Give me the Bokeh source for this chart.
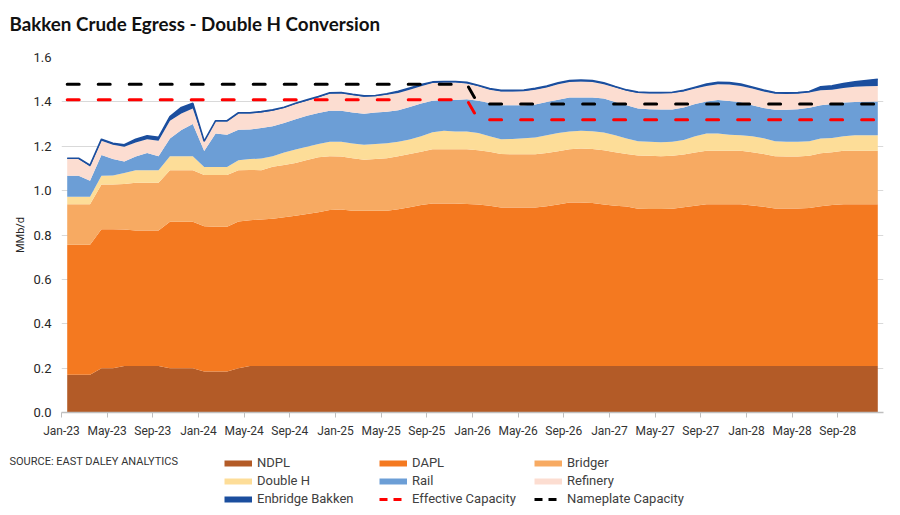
import numpy as np
import pandas as pd
from bokeh.plotting import figure
from bokeh.layouts import column
from bokeh.models import (ColumnDataSource, Range1d, FixedTicker, Legend, LegendItem,
                          Label, NumeralTickFormatter)
from bokeh.transform import stack
from bokeh.embed import file_html
from bokeh.resources import INLINE

# ---------------- data (MMb/d, monthly Jan-23 .. Dec-28) ----------------
months = pd.date_range("2023-01-01", periods=72, freq="MS")

ndpl = [0.17, 0.17, 0.17, 0.20, 0.20, 0.21, 0.21, 0.21, 0.21, 0.20, 0.20, 0.20,
        0.185, 0.185, 0.185, 0.20, 0.21, 0.21, 0.21, 0.21, 0.21, 0.21, 0.21, 0.21,
        0.21, 0.21, 0.21, 0.21, 0.21, 0.21, 0.21, 0.21, 0.21, 0.21, 0.21, 0.21,
        0.21, 0.21, 0.21, 0.21, 0.21, 0.21, 0.21, 0.21, 0.21, 0.21, 0.21, 0.21,
        0.21, 0.21, 0.21, 0.21, 0.21, 0.21, 0.21, 0.21, 0.21, 0.21, 0.21, 0.21,
        0.21, 0.21, 0.21, 0.21, 0.21, 0.21, 0.21, 0.21, 0.21, 0.21, 0.21, 0.21]

dapl = [0.586, 0.586, 0.586, 0.626, 0.626, 0.615, 0.610, 0.610, 0.610, 0.660, 0.660, 0.660,
        0.655, 0.652, 0.652, 0.661, 0.657, 0.660, 0.663, 0.670, 0.677, 0.685, 0.693, 0.703,
        0.705, 0.699, 0.699, 0.699, 0.699, 0.706, 0.715, 0.725, 0.732, 0.732, 0.732, 0.730,
        0.727, 0.722, 0.714, 0.714, 0.714, 0.714, 0.720, 0.728, 0.737, 0.737, 0.734, 0.728,
        0.722, 0.718, 0.708, 0.707, 0.707, 0.708, 0.715, 0.722, 0.729, 0.729, 0.729, 0.729,
        0.723, 0.717, 0.710, 0.710, 0.710, 0.712, 0.720, 0.725, 0.729, 0.729, 0.729, 0.729]

bridger = [0.183, 0.183, 0.183, 0.202, 0.202, 0.205, 0.215, 0.215, 0.215, 0.232, 0.232, 0.232,
           0.230, 0.233, 0.233, 0.231, 0.226, 0.222, 0.235, 0.235, 0.238, 0.243, 0.247, 0.242,
           0.239, 0.237, 0.230, 0.234, 0.237, 0.239, 0.240, 0.240, 0.245, 0.245, 0.245, 0.247,
           0.245, 0.243, 0.241, 0.240, 0.240, 0.240, 0.240, 0.239, 0.239, 0.243, 0.244, 0.244,
           0.241, 0.237, 0.240, 0.240, 0.238, 0.239, 0.238, 0.240, 0.241, 0.241, 0.241, 0.241,
           0.240, 0.238, 0.235, 0.234, 0.234, 0.235, 0.238, 0.238, 0.241, 0.241, 0.241, 0.241]

double_h = [0.033, 0.033, 0.033, 0.039, 0.040, 0.050, 0.057, 0.057, 0.057, 0.063, 0.063, 0.063,
            0.037, 0.037, 0.037, 0.045, 0.049, 0.053, 0.047, 0.057, 0.060, 0.060, 0.060, 0.065,
            0.066, 0.066, 0.068, 0.067, 0.068, 0.065, 0.065, 0.070, 0.076, 0.083, 0.080, 0.079,
            0.078, 0.070, 0.067, 0.069, 0.072, 0.076, 0.080, 0.083, 0.080, 0.080, 0.080, 0.080,
            0.077, 0.070, 0.064, 0.063, 0.063, 0.063, 0.065, 0.073, 0.078, 0.078, 0.072, 0.070,
            0.072, 0.071, 0.067, 0.066, 0.066, 0.065, 0.067, 0.064, 0.065, 0.070, 0.070, 0.070]

rail = [0.095, 0.095, 0.072, 0.094, 0.074, 0.051, 0.062, 0.078, 0.063, 0.080, 0.118, 0.145,
        0.072, 0.151, 0.145, 0.137, 0.134, 0.137, 0.135, 0.133, 0.137, 0.139, 0.140, 0.140,
        0.140, 0.140, 0.140, 0.142, 0.142, 0.142, 0.147, 0.148, 0.142, 0.138, 0.141, 0.146,
        0.145, 0.150, 0.153, 0.152, 0.149, 0.148, 0.150, 0.150, 0.154, 0.150, 0.152, 0.153,
        0.150, 0.150, 0.148, 0.147, 0.148, 0.146, 0.147, 0.145, 0.144, 0.150, 0.152, 0.148,
        0.140, 0.136, 0.142, 0.144, 0.147, 0.151, 0.150, 0.153, 0.152, 0.150, 0.151, 0.152]

refinery = [0.075, 0.075, 0.065, 0.064, 0.065, 0.067, 0.063, 0.062, 0.070, 0.080, 0.075, 0.070,
            0.041, 0.054, 0.060, 0.074, 0.072, 0.070, 0.070, 0.067, 0.068, 0.068, 0.070, 0.077,
            0.078, 0.078, 0.076, 0.073, 0.076, 0.078, 0.078, 0.077, 0.080, 0.079, 0.079, 0.071,
            0.065, 0.060, 0.062, 0.062, 0.063, 0.067, 0.065, 0.070, 0.070, 0.072, 0.070, 0.065,
            0.065, 0.065, 0.070, 0.071, 0.072, 0.074, 0.072, 0.070, 0.070, 0.072, 0.074, 0.074,
            0.075, 0.075, 0.073, 0.072, 0.070, 0.069, 0.067, 0.065, 0.065, 0.068, 0.069, 0.070]

enbridge = [0.004, 0.004, 0.006, 0.007, 0.006, 0.009, 0.015, 0.015, 0.015, 0.018, 0.027, 0.024,
            0.003, 0.003, 0.003, 0.003, 0.003, 0.004, 0.004, 0.004, 0.004, 0.004, 0.004, 0.004,
            0.004, 0.004, 0.004, 0.004, 0.005, 0.008, 0.008, 0.008, 0.005, 0.005, 0.005, 0.005,
            0.005, 0.005, 0.005, 0.005, 0.005, 0.006, 0.006, 0.006, 0.006, 0.006, 0.006, 0.006,
            0.004, 0.004, 0.004, 0.004, 0.004, 0.003, 0.005, 0.006, 0.008, 0.008, 0.009, 0.008,
            0.007, 0.006, 0.005, 0.005, 0.005, 0.005, 0.016, 0.017, 0.021, 0.022, 0.026, 0.030]

effective_capacity = [1.41, 1.41, 1.41, 1.41, 1.41, 1.41, 1.41, 1.41, 1.41, 1.41, 1.41, 1.41,
                      1.41, 1.41, 1.41, 1.41, 1.41, 1.41, 1.41, 1.41, 1.41, 1.41, 1.41, 1.41,
                      1.41, 1.41, 1.41, 1.41, 1.41, 1.41, 1.41, 1.41, 1.41, 1.41, 1.41, 1.41,
                      1.32, 1.32, 1.32, 1.32, 1.32, 1.32, 1.32, 1.32, 1.32, 1.32, 1.32, 1.32,
                      1.32, 1.32, 1.32, 1.32, 1.32, 1.32, 1.32, 1.32, 1.32, 1.32, 1.32, 1.32,
                      1.32, 1.32, 1.32, 1.32, 1.32, 1.32, 1.32, 1.32, 1.32, 1.32, 1.32, 1.32]

nameplate_capacity = [1.48, 1.48, 1.48, 1.48, 1.48, 1.48, 1.48, 1.48, 1.48, 1.48, 1.48, 1.48,
                      1.48, 1.48, 1.48, 1.48, 1.48, 1.48, 1.48, 1.48, 1.48, 1.48, 1.48, 1.48,
                      1.48, 1.48, 1.48, 1.48, 1.48, 1.48, 1.48, 1.48, 1.48, 1.48, 1.48, 1.48,
                      1.39, 1.39, 1.39, 1.39, 1.39, 1.39, 1.39, 1.39, 1.39, 1.39, 1.39, 1.39,
                      1.39, 1.39, 1.39, 1.39, 1.39, 1.39, 1.39, 1.39, 1.39, 1.39, 1.39, 1.39,
                      1.39, 1.39, 1.39, 1.39, 1.39, 1.39, 1.39, 1.39, 1.39, 1.39, 1.39, 1.39]

tick_labels = ["Jan-23", "May-23", "Sep-23", "Jan-24", "May-24", "Sep-24",
               "Jan-25", "May-25", "Sep-25", "Jan-26", "May-26", "Sep-26",
               "Jan-27", "May-27", "Sep-27", "Jan-28", "May-28", "Sep-28"]

series_keys = ["ndpl", "dapl", "bridger", "double_h", "rail", "refinery", "enbridge"]
series_labels = ["NDPL", "DAPL", "Bridger", "Double H", "Rail", "Refinery", "Enbridge Bakken"]
series_colors = ["#B35B27", "#F47920", "#F7AA62", "#FDDD98", "#6C9ED6", "#FCDDD1", "#1B4E9E"]

TITLE_FONT = "Lato"
SANS = "Roboto"
W = 884

def blank(height):
    fig = figure(width=W, height=height, x_range=Range1d(0, W), y_range=Range1d(0, height),
                 output_backend="svg", toolbar_location=None,
                 x_axis_type=None, y_axis_type=None, min_border=0, min_border_left=0,
                 min_border_right=0, min_border_top=0, min_border_bottom=0)
    fig.outline_line_color = None
    fig.grid.visible = False
    fig.frame_align = False
    return fig

# ---------------- header: title ----------------
HEAD_H = 40
h = blank(HEAD_H)
h.add_layout(Label(x=9, y=HEAD_H - 22.5, text="Bakken Crude Egress - Double H Conversion",
                   text_font=TITLE_FONT, text_font_style="bold", text_font_size="18.8px",
                   text_color="#111111", text_baseline="middle"))

# ---------------- main chart ----------------
x = np.arange(len(months)) + 0.5
source = ColumnDataSource(dict(x=x, ndpl=ndpl, dapl=dapl, bridger=bridger, double_h=double_h,
                               rail=rail, refinery=refinery, enbridge=enbridge,
                               eff=effective_capacity, name=nameplate_capacity))

p = figure(width=W, height=400, x_range=Range1d(0, 72), y_range=Range1d(0, 1.6),
           output_backend="svg", toolbar_location=None,
           min_border_left=61, min_border_right=1, min_border_top=17, min_border_bottom=28)
p.outline_line_color = None
p.frame_align = False

p.varea_stack(stackers=series_keys, x="x", color=series_colors, source=source)
p.line(x="x", y=stack(*series_keys), line_color="#1B4E9E", line_width=1.6, source=source)

p.line(x="x", y="eff", line_color="#FF0000", line_width=3, line_dash="12 19",
       line_cap="round", source=source)
p.line(x="x", y="name", line_color="#000000", line_width=3, line_dash="12 19",
       line_cap="round", source=source)

p.xgrid.visible = False
p.ygrid.grid_line_color = "#D9D9D9"
p.ygrid.grid_line_width = 1

p.yaxis.ticker = FixedTicker(ticks=[0, 0.2, 0.4, 0.6, 0.8, 1.0, 1.2, 1.4, 1.6])
p.yaxis.formatter = NumeralTickFormatter(format="0.0")
p.yaxis.axis_line_color = None
p.yaxis.major_tick_line_color = None
p.yaxis.minor_tick_line_color = None
p.yaxis.major_label_standoff = 4
p.yaxis.major_label_text_font = SANS
p.yaxis.major_label_text_font_size = "13px"
p.yaxis.major_label_text_color = "#262626"
p.yaxis.axis_label = "MMb/d"
p.yaxis.axis_label_text_font = SANS
p.yaxis.axis_label_text_font_size = "11px"
p.yaxis.axis_label_text_font_style = "normal"
p.yaxis.axis_label_text_color = "#262626"
p.yaxis.axis_label_standoff = 3

tick_pos = list(range(0, 72, 4))
p.xaxis.ticker = FixedTicker(ticks=tick_pos)
p.xaxis.major_label_overrides = {t: lab for t, lab in zip(tick_pos, tick_labels)}
p.xaxis.axis_line_color = "#BFBFBF"
p.xaxis.axis_line_width = 1.5
p.xaxis.major_tick_line_color = "#BFBFBF"
p.xaxis.major_tick_in = 0
p.xaxis.major_tick_out = 5
p.xaxis.minor_tick_line_color = None
p.xaxis.major_label_standoff = 6
p.xaxis.major_label_text_font = SANS
p.xaxis.major_label_text_font_size = "12px"
p.xaxis.major_label_text_color = "#333333"

# ---------------- footer: source note and legend ----------------
FOOT_H = 66
f = blank(FOOT_H)
f.add_layout(Label(x=9, y=FOOT_H - 21, text="SOURCE: EAST DALEY ANALYTICS",
                   text_font=SANS, text_font_size="11px",
                   text_color="#333333", text_baseline="middle"))

def proxy(color, width, dash="solid"):
    return f.line(x=[0, 1], y=[np.nan, np.nan], line_color=color, line_width=width,
                  line_dash=dash)

legend_entries = [(lab, proxy(c, 6)) for lab, c in zip(series_labels, series_colors)]
legend_entries.append(("Effective Capacity", proxy("#FF0000", 3, "8 6")))
legend_entries.append(("Nameplate Capacity", proxy("#000000", 3, "8 6")))

legend = Legend(items=[LegendItem(label=lab, renderers=[r]) for lab, r in legend_entries],
                location=(224, 0), orientation="horizontal", ncols=3,
                glyph_width=28, glyph_height=14, label_standoff=5, label_width=119,
                label_height=14, spacing=3, padding=0, margin=0,
                border_line_alpha=0, background_fill_alpha=0,
                label_text_font=SANS, label_text_font_size="13px",
                label_text_color="#404040")
f.add_layout(legend)

layout = column(h, p, f, spacing=0)
open("out.html", "w").write(file_html(layout, INLINE))
